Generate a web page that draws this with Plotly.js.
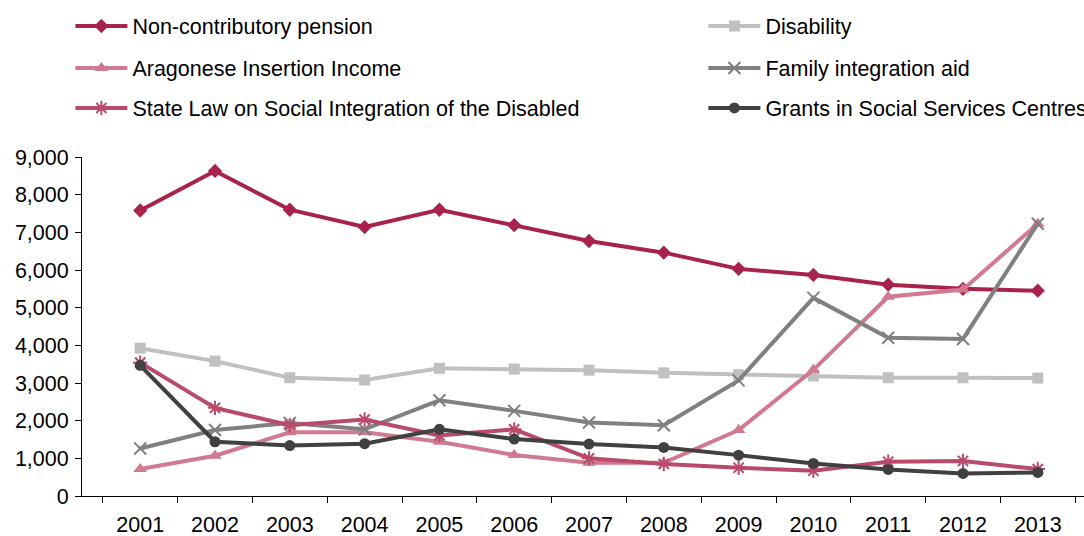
<!DOCTYPE html>
<html>
<head>
<meta charset="utf-8">
<script src="https://cdn.plot.ly/plotly-3.0.1.min.js"></script>
<style>html,body{margin:0;padding:0;overflow:hidden;background:#fff;}#chart{width:1100px;height:536px;}</style>
</head>
<body>
<div id="chart"></div>
<script>
const years = ["2001","2002","2003","2004","2005","2006","2007","2008","2009","2010","2011","2012","2013"];
const nonContributory = [7580, 8630, 7600, 7140, 7600, 7190, 6770, 6460, 6030, 5870, 5610, 5500, 5450];
const disability = [3925, 3580, 3140, 3080, 3390, 3370, 3340, 3270, 3220, 3185, 3140, 3140, 3130];
const aragonese = [715, 1070, 1690, 1690, 1440, 1090, 880, 880, 1750, 3350, 5290, 5480, 7230];
const familyAid = [1260, 1750, 1940, 1770, 2540, 2260, 1950, 1880, 3070, 5260, 4200, 4170, 7230];
const stateLaw = [3540, 2340, 1880, 2030, 1610, 1770, 1000, 850, 750, 670, 910, 930, 715];
const grants = [3470, 1440, 1340, 1390, 1770, 1510, 1380, 1290, 1085, 865, 706, 600, 627];
const yTicks = [0,1000,2000,3000,4000,5000,6000,7000,8000,9000];
const yTickLabels = ["0","1,000","2,000","3,000","4,000","5,000","6,000","7,000","8,000","9,000"];

function tr(name, y, color, symbol, size, legend, mline) {
  return {
    type: "scatter", mode: "lines+markers", x: years, y: y, name: name,
    line: {color: color, width: 4},
    marker: {color: color, symbol: symbol, size: size, line: {color: color, width: mline || 0}},
    legend: legend, hoverinfo: "x+y+name"
  };
}
const data = [
  tr("Non-contributory pension", nonContributory, "#A8234A", "diamond", 11, "legend"),
  tr("Disability", disability, "#C0C0C0", "square", 11, "legend2"),
  tr("Aragonese Insertion Income", aragonese, "#D07A90", "triangle-up", 12, "legend3"),
  tr("Family integration aid", familyAid, "#808080", "x-thin-open", 12, "legend4", 2),
  tr("State Law on Social Integration of the Disabled", stateLaw, "#B94B6A", "asterisk-open", 12, "legend5", 2),
  tr("Grants in Social Services Centres", grants, "#404040", "circle", 11, "legend6")
];
const font = {family: "Liberation Sans, Arial, sans-serif", size: 21.5, color: "#000"};
function leg(xpx, ypx) {
  return {orientation: "h", xref: "container", yref: "container", x: (xpx - 7.6) / 1100, xanchor: "left",
    y: 1 - ypx / 536, yanchor: "middle", itemwidth: 52,
    font: font, bgcolor: "rgba(0,0,0,0)", itemclick: false};
}
const layout = {
  width: 1100, height: 536,
  margin: {l: 82, r: 4, t: 157, b: 40},
  paper_bgcolor: "#fff", plot_bgcolor: "#fff",
  font: font,
  showlegend: true,
  legend: leg(78, 26),
  legend2: leg(711, 26),
  legend3: leg(78, 68),
  legend4: leg(711, 68),
  legend5: leg(78, 108),
  legend6: leg(711, 108),
  xaxis: {type: "category", showline: true, linecolor: "#000", linewidth: 1,
    ticks: "outside", ticklen: 6, tickcolor: "#000", tickson: "boundaries",
    ticklabelstandoff: 9,
    showgrid: false, zeroline: false, tickfont: font, fixedrange: true},
  yaxis: {range: [0, 9000], tickvals: yTicks, ticktext: yTickLabels, showline: true,
    linecolor: "#000", linewidth: 1, ticks: "outside", ticklen: 6, tickcolor: "#000",
    ticklabelstandoff: 2,
    showgrid: false, zeroline: false, tickfont: font, fixedrange: true}
};
Plotly.newPlot("chart", data, layout, {displayModeBar: false, staticPlot: true});
</script>
</body>
</html>
